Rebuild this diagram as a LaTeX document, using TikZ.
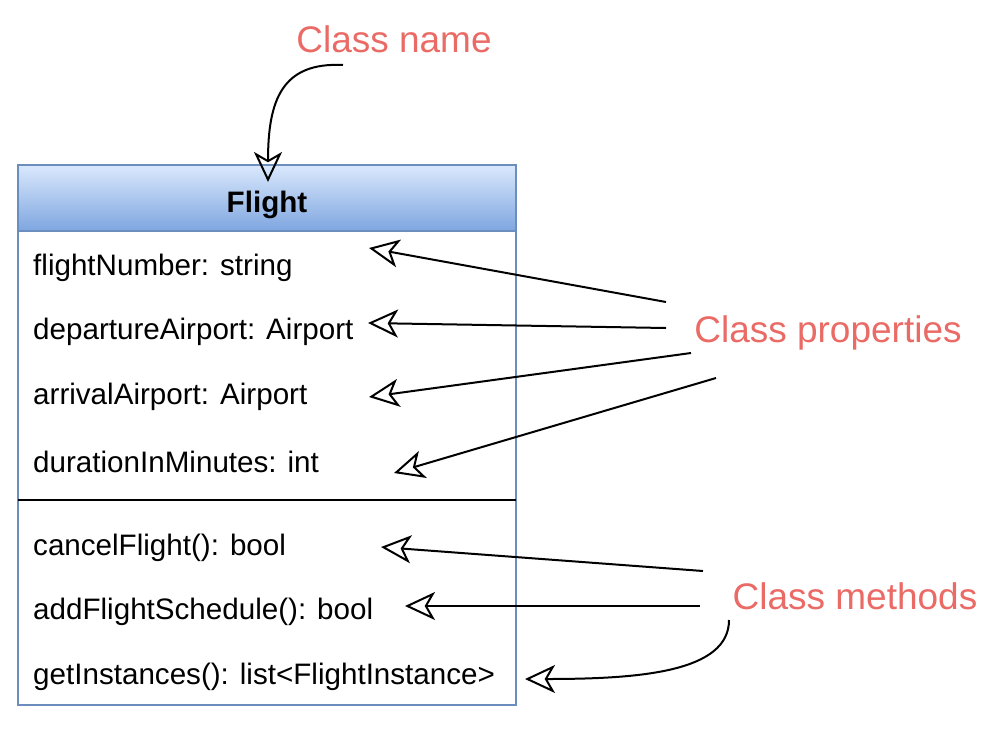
\documentclass[tikz,border=0pt]{standalone}
\usepackage{fontspec}
\setmainfont{Liberation Sans}
\usetikzlibrary{arrows.meta}
\definecolor{boxblue}{HTML}{6C8EBF}
\definecolor{headtop}{HTML}{DAE8FC}
\definecolor{headbot}{HTML}{7EA6E0}
\definecolor{labred}{HTML}{EA6B66}
\tikzset{
  member/.style={anchor=west, inner sep=0pt, font=\fontsize{29.6}{30}\selectfont},
  callout/.style={inner sep=0pt, text=labred, font=\fontsize{37}{37}\selectfont},
  pointer/.style={line width=2pt, -{Stealth[open, length=30pt, width=28pt, inset=8pt]}},
}
\begin{document}
\begin{tikzpicture}[x=1pt, y=-1pt]
\useasboundingbox (0,0) rectangle (1003,737);
% class box
\shade[top color=headtop, bottom color=headbot] (18,165) rectangle (516,231);
\draw[boxblue, line width=2pt] (18,165) rectangle (516,705);
\draw[boxblue, line width=2pt] (18,231) -- (516,231);
\draw[black, line width=2pt] (18,500) -- (516,500);
\node[inner sep=0pt, font=\bfseries\fontsize{29.6}{30}\selectfont] (title) at (267,205) {Flight};
\node[member] (m1) at (33,268) {flightNumber: string};
\node[member] (m2) at (33,332) {departureAirport: Airport};
\node[member] (m3) at (33,397) {arrivalAirport: Airport};
\node[member] (m4) at (33,462) {durationInMinutes: int};
\node[member] (f1) at (33,548) {cancelFlight(): bool};
\node[member] (f2) at (33,612) {addFlightSchedule(): bool};
\node[member] (f3) at (33,677) {getInstances(): list<FlightInstance>};
% callouts
\node[callout] (cname) at (394,39) {Class name};
\node[callout] (cprop) at (828,333) {Class properties};
\node[callout] (cmeth) at (855,596) {Class methods};
% arrow coordinates
\coordinate (n0) at (343,65);   \coordinate (n1) at (268,182);
\coordinate (p1s) at (666,302); \coordinate (p1t) at (369,248);
\coordinate (p2s) at (666,328); \coordinate (p2t) at (368,323);
\coordinate (p3s) at (691,353); \coordinate (p3t) at (369,397);
\coordinate (p4s) at (716,378); \coordinate (p4t) at (394,473);
\coordinate (f1s) at (703,571); \coordinate (f1t) at (381,547);
\coordinate (f2s) at (700,606); \coordinate (f2t) at (405,606);
\coordinate (f3s) at (729,620); \coordinate (f3t) at (525,679);
\draw[pointer] (n0) .. controls (282,62) and (268,100) .. (n1);
\draw[pointer] (p1s) -- (p1t);
\draw[pointer] (p2s) -- (p2t);
\draw[pointer] (p3s) -- (p3t);
\draw[pointer] (p4s) -- (p4t);
\draw[pointer] (f1s) -- (f1t);
\draw[pointer] (f2s) -- (f2t);
\draw[pointer] (f3s) .. controls (729,672) and (640,679) .. (f3t);
\end{tikzpicture}
\end{document}
